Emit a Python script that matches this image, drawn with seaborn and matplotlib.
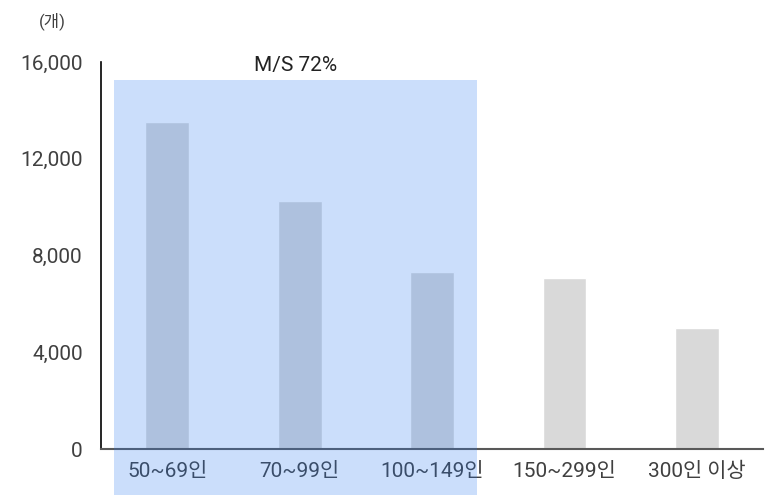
import matplotlib
matplotlib.use('Agg')
import matplotlib.pyplot as plt
import seaborn as sns
from matplotlib.patches import Rectangle
from matplotlib.ticker import FuncFormatter

sns.set_theme(style='white')
plt.rcParams['font.family'] = ['Roboto', 'Noto Sans CJK KR', 'DejaVu Sans']

# Data
categories = ['50~69인', '70~99인', '100~149인', '150~299인', '300인 이상']
counts = [13500, 10250, 7300, 7070, 5000]
bar_colors = ['#D9D9D9'] * 5
share_label = 'M/S 72%'
unit_label = '(개)'
yticks = [0, 4000, 8000, 12000, 16000]

fig = plt.figure(figsize=(7.71, 4.99), dpi=100)
ax = fig.add_axes([0.131, 0.1002, 0.859, 0.7756])

sns.barplot(x=categories, y=counts, hue=categories, palette=bar_colors,
            legend=False, width=0.33, saturation=1, ax=ax)

ax.set_xlim(-0.5, 4.5)
ax.set_ylim(0, 16000)
ax.set_yticks(yticks)
ax.yaxis.set_major_formatter(FuncFormatter(lambda v, _: f'{v:,.0f}'))
ax.set_xlabel('')
ax.set_ylabel('')

for s in ['top', 'right']:
    ax.spines[s].set_visible(False)
ax.spines['left'].set_color('black')
ax.spines['left'].set_linewidth(1.2)
ax.spines['bottom'].set_color('#595959')
ax.spines['bottom'].set_linewidth(1.5)
ax.tick_params(axis='both', length=0, labelsize=15, colors='#404040')
ax.tick_params(axis='x', pad=9)
ax.tick_params(axis='y', pad=13)

# Market share highlight box (covers first three groups and their labels)
hl = Rectangle((-0.4, -1900), 2.74, 17150, facecolor='#2878F0', alpha=0.24,
               edgecolor='none', clip_on=False, zorder=5)
ax.add_patch(hl)
ax.text(0.97, 15450, share_label, ha='center', va='bottom', fontsize=15,
        color='#222222')

fig.text(0.068, 0.958, unit_label, ha='center', va='center', fontsize=12,
         color='#404040')

fig.savefig('out.png', dpi=100)
